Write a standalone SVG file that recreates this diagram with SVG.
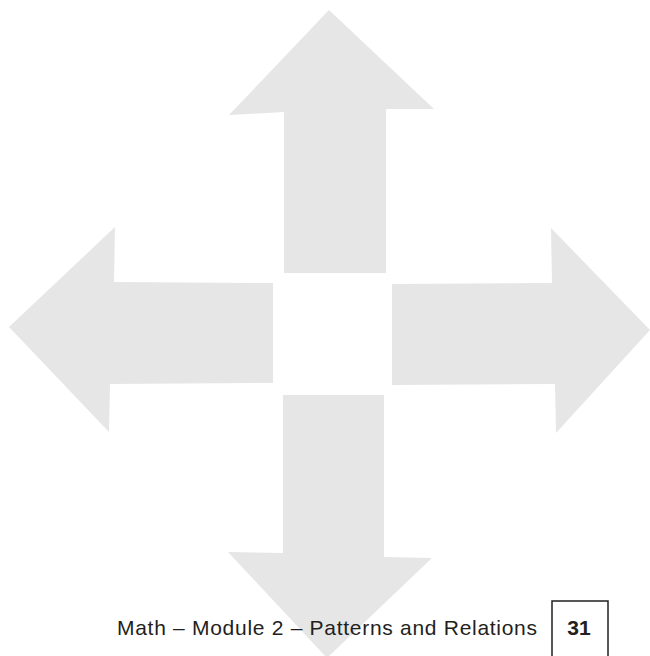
<svg xmlns="http://www.w3.org/2000/svg" width="650" height="656" viewBox="0 0 650 656">
<style>
.arrow{fill:#e6e6e6;stroke:none}
.foot{font-family:"Liberation Sans",Arial,sans-serif;font-size:21px;fill:#231f20}
</style>
<rect width="650" height="656" fill="#ffffff"/>
<g id="arrow-up"><polygon class="arrow" points="329,10 434,109 386,109 386,273 284,273 284,112 229,115"/></g>
<g id="arrow-left"><polygon class="arrow" points="9,327 115,227 114,282 273,283 273,383 110,384 109,432"/></g>
<g id="arrow-right"><polygon class="arrow" points="650,330 556,433 555,384 392,385 392,284 552,283 551,228"/></g>
<g id="arrow-down"><polygon class="arrow" points="327,658 432,558 384,557 384,395 283,395 283,553 228,552"/></g>
<g id="footer">
<text class="foot" x="117" y="635" textLength="420" lengthAdjust="spacing">Math – Module 2 – Patterns and Relations</text>
<rect x="552" y="601" width="56" height="60" fill="none" stroke="#231f20" stroke-width="1.5"/>
<text class="foot" x="579" y="635" text-anchor="middle" font-weight="bold">31</text>
</g>
</svg>
